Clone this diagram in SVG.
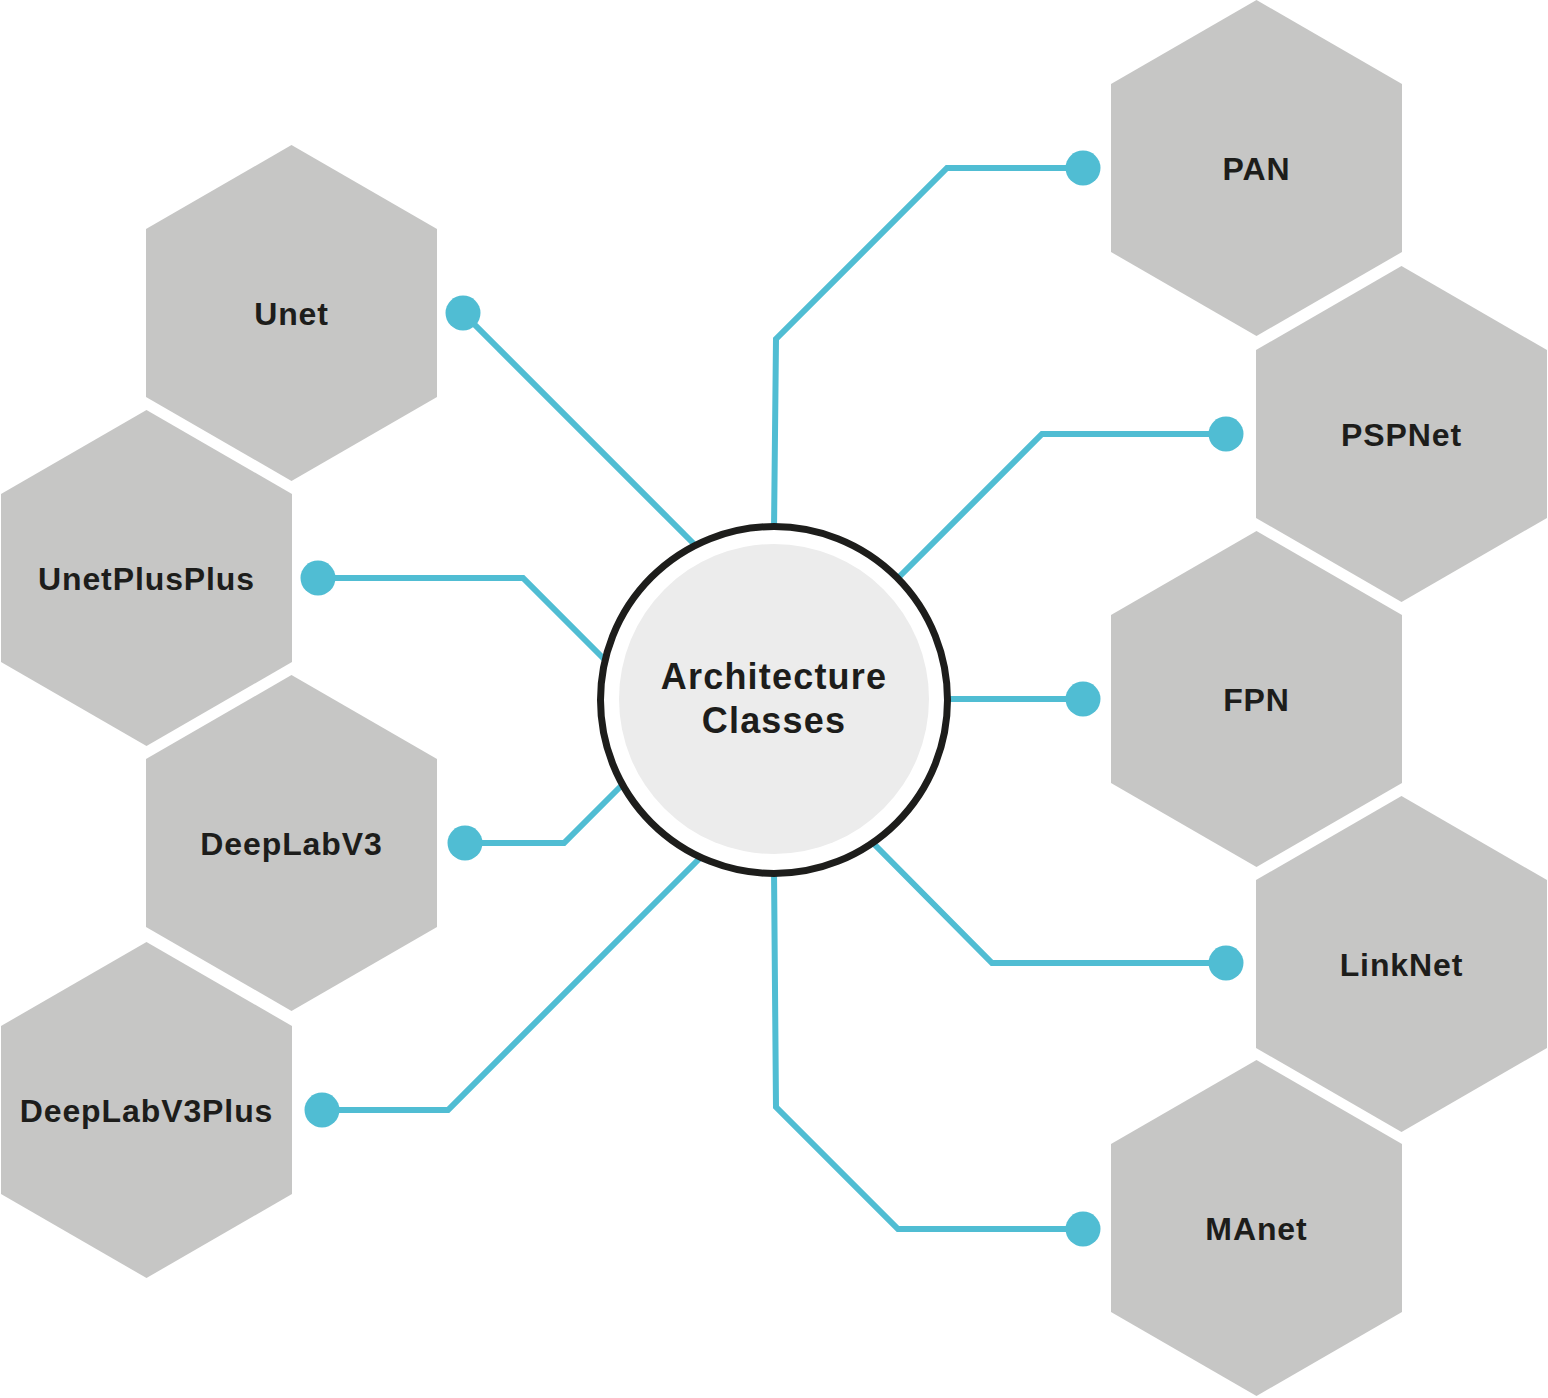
<svg xmlns="http://www.w3.org/2000/svg" width="1548" height="1398" viewBox="0 0 1548 1398">
<defs>
<style>
.hex{fill:#c6c6c5;}
.lbl{font-family:"Liberation Sans",Arial,sans-serif;font-weight:bold;font-size:32px;fill:#1d1d1b;text-anchor:middle;letter-spacing:0.9px;}
.ctr{font-family:"Liberation Sans",Arial,sans-serif;font-weight:bold;font-size:36px;fill:#1d1d1b;text-anchor:middle;letter-spacing:1.2px;}
.con{fill:none;stroke:#50bdd3;stroke-width:6;stroke-linejoin:miter;}
.dot{fill:#50bdd3;}
</style>
<polygon id="hx" class="hex" points="0,-168 145.5,-84 145.5,84 0,168 -145.5,84 -145.5,-84"/>
</defs>
<rect width="1548" height="1398" fill="#ffffff"/>
<g id="connectors">
<polyline class="con" points="463,313 695,545"/>
<polyline class="con" points="318,578 523,578 604,659"/>
<polyline class="con" points="465,843 564,843 622,785"/>
<polyline class="con" points="322,1110 448,1110 700,858"/>
<polyline class="con" points="774,530 776,339 947,168 1083,168"/>
<polyline class="con" points="898,578 1042,434 1226,434"/>
<polyline class="con" points="945,699 1083,699"/>
<polyline class="con" points="872,842 992,963 1226,963"/>
<polyline class="con" points="774,870 776,1107 898,1229 1083,1229"/>
<circle class="dot" cx="463" cy="313" r="17.5"/>
<circle class="dot" cx="318" cy="578" r="17.5"/>
<circle class="dot" cx="465" cy="843" r="17.5"/>
<circle class="dot" cx="322" cy="1110" r="17.5"/>
<circle class="dot" cx="1083" cy="168" r="17.5"/>
<circle class="dot" cx="1226" cy="434" r="17.5"/>
<circle class="dot" cx="1083" cy="699" r="17.5"/>
<circle class="dot" cx="1226" cy="963" r="17.5"/>
<circle class="dot" cx="1083" cy="1229" r="17.5"/>
</g>
<g id="center">
<circle cx="774" cy="700" r="173.5" fill="#ffffff" stroke="#1d1d1b" stroke-width="7"/>
<circle cx="774" cy="699" r="155" fill="#ececec"/>
<text class="ctr" x="774" y="689">Architecture</text>
<text class="ctr" x="774" y="733">Classes</text>
</g>
<g id="unet"><use href="#hx" x="291.5" y="313"/><text class="lbl" x="291.5" y="325">Unet</text></g>
<g id="unetplusplus"><use href="#hx" x="146.5" y="578"/><text class="lbl" x="146.5" y="590">UnetPlusPlus</text></g>
<g id="deeplabv3"><use href="#hx" x="291.5" y="843"/><text class="lbl" x="291.5" y="855">DeepLabV3</text></g>
<g id="deeplabv3plus"><use href="#hx" x="146.5" y="1110"/><text class="lbl" x="146.5" y="1122">DeepLabV3Plus</text></g>
<g id="pan"><use href="#hx" x="1256.5" y="168"/><text class="lbl" x="1256.5" y="180">PAN</text></g>
<g id="pspnet"><use href="#hx" x="1401.5" y="434"/><text class="lbl" x="1401.5" y="446">PSPNet</text></g>
<g id="fpn"><use href="#hx" x="1256.5" y="699"/><text class="lbl" x="1256.5" y="711">FPN</text></g>
<g id="linknet"><use href="#hx" x="1401.5" y="964"/><text class="lbl" x="1401.5" y="976">LinkNet</text></g>
<g id="manet"><use href="#hx" x="1256.5" y="1228"/><text class="lbl" x="1256.5" y="1240">MAnet</text></g>
</svg>
